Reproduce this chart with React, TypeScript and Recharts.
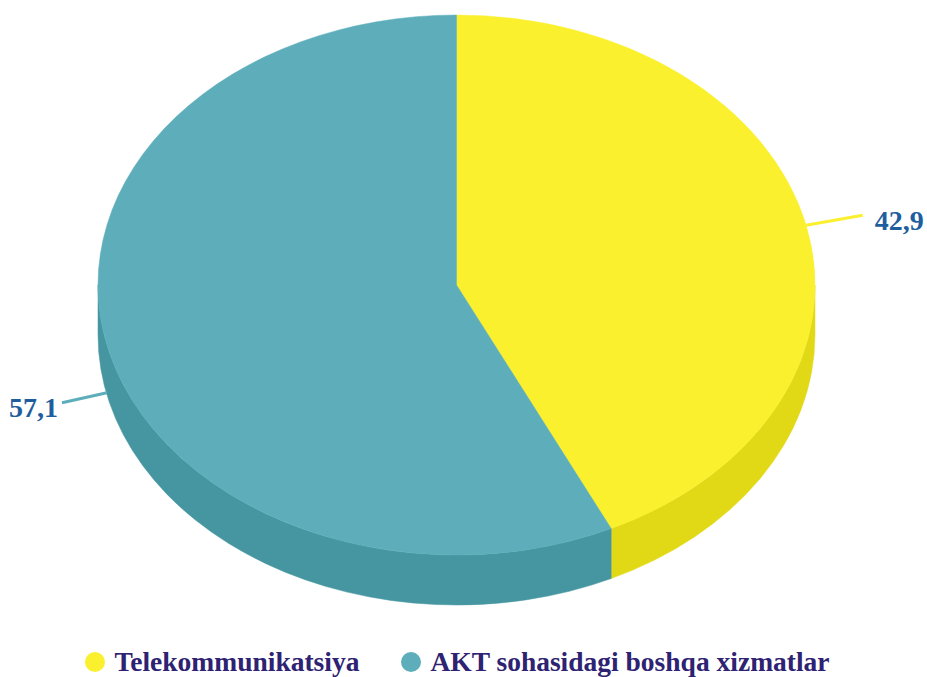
import { PieChart, Pie, Legend } from 'recharts';

const SEGMENTS = ['Telekommunikatsiya', 'AKT sohasidagi boshqa xizmatlar'];
const SHARES = [42.9, 57.1];
const TOP_COLORS = ['#FAF02E', '#5DAEBA'];
const SIDE_COLORS = ['#E2D916', '#4596A0'];

const data = SEGMENTS.map((name, i) => ({
    name,
    value: SHARES[i],
    fill: TOP_COLORS[i],
    side: SIDE_COLORS[i],
}));

// the chart is drawn as a squashed pie with a front wall
const FLAT = 270 / 358.5;
const DEPTH = 50;
const SERIF = "'Liberation Serif', 'Times New Roman', serif";

const pt = (cx: number, cy: number, rx: number, ry: number, a: number) => {
    const r = (a * Math.PI) / 180;
    return [cx + rx * Math.cos(r), cy - ry * Math.sin(r)];
};

const Slice3D = (props: any) => {
    const { cx, cy, outerRadius, startAngle, endAngle, fill, payload } = props;
    const rx = outerRadius;
    const ry = outerRadius * FLAT;
    const hi = Math.max(startAngle, endAngle);
    const lo = Math.min(startAngle, endAngle);
    const s = pt(cx, cy, rx, ry, startAngle);
    const e = pt(cx, cy, rx, ry, endAngle);
    const large = hi - lo > 180 ? 1 : 0;
    const sweep = startAngle > endAngle ? 1 : 0;
    const top = `M${cx},${cy} L${s[0]},${s[1]} A${rx},${ry} 0 ${large} ${sweep} ${e[0]},${e[1]} Z`;

    // visible wall = part of the rim in the lower half
    const walls: string[] = [];
    [-360, 0, 360].forEach((k) => {
        const a1 = Math.min(hi, k);
        const a2 = Math.max(lo, k - 180);
        if (a1 - a2 > 0.01) {
            const p1 = pt(cx, cy, rx, ry, a1);
            const p2 = pt(cx, cy, rx, ry, a2);
            const lg = a1 - a2 > 180 ? 1 : 0;
            walls.push(
                `M${p1[0]},${p1[1]} A${rx},${ry} 0 ${lg} 1 ${p2[0]},${p2[1]} L${p2[0]},${p2[1] + DEPTH} A${rx},${ry} 0 ${lg} 0 ${p1[0]},${p1[1] + DEPTH} Z`
            );
        }
    });

    return (
        <g>
            {walls.map((d, i) => (
                <path key={i} d={d} fill={payload.side} stroke={payload.side} strokeWidth={0.5} />
            ))}
            <path d={top} fill={fill} stroke={fill} strokeWidth={0.5} />
        </g>
    );
};

const renderLabel = (props: any) => {
    const { cx, cy, midAngle, outerRadius, value, fill } = props;
    const rx = outerRadius;
    const ry = outerRadius * FLAT;
    const p = pt(cx, cy, rx, ry, midAngle);
    const r = (midAngle * Math.PI) / 180;
    const right = Math.cos(r) >= 0;
    const y0 = Math.sin(r) < 0 ? p[1] + DEPTH - 2 : p[1];
    const x1 = p[0] + Math.cos(r) * (right ? 58 : 46);
    const y1 = y0 - Math.sin(r) * 45;
    return (
        <g>
            <path d={`M${p[0]},${y0} L${x1},${y1}`} stroke={fill} strokeWidth={3} fill="none" />
            <text
                x={right ? x1 + 12 : x1 - 4}
                y={y1 + 5}
                textAnchor={right ? 'start' : 'end'}
                dominantBaseline="central"
                fill="#1F5E9E"
                fontFamily={SERIF}
                fontWeight="bold"
                fontSize={28}
            >
                {String(value).replace('.', ',')}
            </text>
        </g>
    );
};

const renderLegend = () => (
    <div
        style={{
            display: 'flex',
            justifyContent: 'center',
            gap: 42,
            paddingRight: 12,
            fontFamily: SERIF,
            fontWeight: 'bold',
            fontSize: 27.5,
            lineHeight: '30px',
            color: '#2E2272',
        }}
    >
        {data.map((d) => (
            <div key={d.name} style={{ display: 'flex', alignItems: 'center' }}>
                <span
                    style={{
                        width: 20,
                        height: 20,
                        borderRadius: 10,
                        background: d.fill,
                        marginRight: 9,
                        display: 'inline-block',
                    }}
                />
                <span>{d.name}</span>
            </div>
        ))}
    </div>
);

const App = () => {
    return (
        <div style={{ position: 'absolute', left: 0, top: 0, width: 927, height: 677, background: '#fff', overflow: 'hidden' }}>
            <PieChart width={927} height={677} margin={{ top: 0, right: 0, bottom: 0, left: 0 }}>
                <Pie
                    data={data}
                    dataKey="value"
                    nameKey="name"
                    cx={456.5}
                    cy={285}
                    outerRadius={358.5}
                    startAngle={90}
                    endAngle={-270}
                    stroke="none"
                    shape={Slice3D}
                    label={renderLabel}
                    labelLine={false}
                    isAnimationActive={false}
                />
                <Legend content={renderLegend} wrapperStyle={{ top: 647, left: 0, width: 927 }} />
            </PieChart>
        </div>
    );
};

export default App;
